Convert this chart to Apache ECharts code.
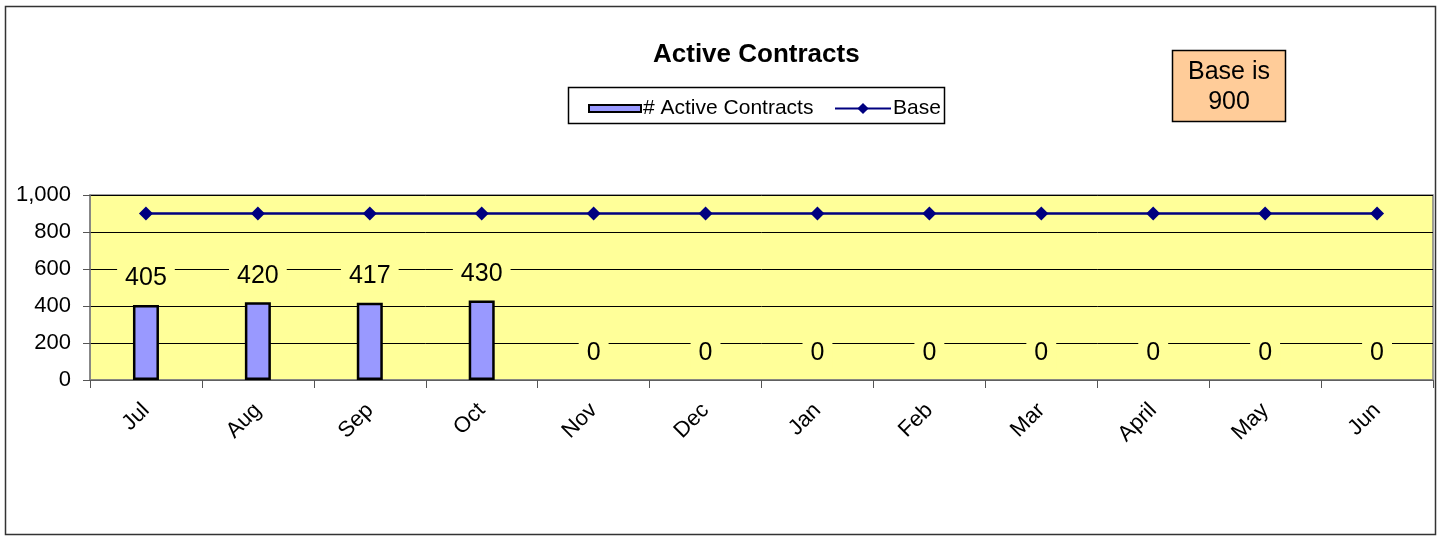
<!DOCTYPE html>
<html>
<head>
<meta charset="utf-8">
<script src="https://cdn.jsdelivr.net/npm/echarts@6/dist/echarts.min.js"></script>
<style>
  html, body { margin: 0; padding: 0; background: #fff; }
  #chart { width: 1440px; height: 537px; }
</style>
</head>
<body>
<div id="chart"></div>
<script>
const months = ['Jul', 'Aug', 'Sep', 'Oct', 'Nov', 'Dec', 'Jan', 'Feb', 'Mar', 'April', 'May', 'Jun']
const activeContracts = [405, 420, 417, 430, 0, 0, 0, 0, 0, 0, 0, 0]
const baseValues = [900, 900, 900, 900, 900, 900, 900, 900, 900, 900, 900, 900]
const yTicks = { min: 0, max: 1000, interval: 200 }
const noteLines = ['Base is', '900']

const font = 'Liberation Sans, Arial, sans-serif'
const chart = echarts.init(document.getElementById('chart'))

// empty months get no bar outline, only the "0" label
const barData = activeContracts.map(v => v === 0
  ? { value: v, itemStyle: { borderWidth: 0 } }
  : v)

chart.setOption({
  animation: false,
  textStyle: { fontFamily: font, color: '#000' },
  title: {
    text: 'Active Contracts',
    left: 648,
    top: 37,
    textStyle: { fontSize: 26, fontWeight: 'bold', color: '#000', fontFamily: font }
  },
  legend: [
    {
      data: [{ name: '# Active Contracts', icon: 'rect' }],
      left: 583,
      top: 93,
      itemWidth: 52,
      itemHeight: 7,
      itemStyle: { borderColor: '#000', borderWidth: 2 },
      textStyle: { fontSize: 21, color: '#000', fontFamily: font, padding: [0, 0, 0, -3] }
    },
    {
      data: ['Base'],
      left: 829,
      top: 93,
      itemWidth: 56,
      itemHeight: 14,
      textStyle: { fontSize: 21, color: '#000', fontFamily: font, padding: [0, 0, 0, -3] }
    }
  ],
  grid: {
    left: 90,
    right: 7,
    top: 195,
    bottom: 157,
    show: true,
    backgroundColor: '#ffff99',
    borderColor: '#808080',
    borderWidth: 1.5
  },
  xAxis: {
    type: 'category',
    data: months,
    boundaryGap: true,
    axisLine: { lineStyle: { color: '#808080', width: 1.5 } },
    axisTick: { show: true, length: 8, lineStyle: { color: '#555' } },
    axisLabel: { rotate: 45, fontSize: 22, color: '#000', margin: 27, fontFamily: font }
  },
  yAxis: {
    type: 'value',
    min: yTicks.min,
    max: yTicks.max,
    interval: yTicks.interval,
    axisLine: { show: true, lineStyle: { color: '#808080', width: 1.5 } },
    axisTick: { show: true, length: 7, lineStyle: { color: '#555' } },
    axisLabel: {
      fontSize: 22,
      color: '#000',
      margin: 19,
      fontFamily: font,
      formatter: v => v.toLocaleString('en-US')
    },
    splitLine: { lineStyle: { color: '#000', width: 1 } }
  },
  series: [
    {
      name: '# Active Contracts',
      type: 'bar',
      data: barData,
      barWidth: 26,
      itemStyle: { color: '#9999ff', borderColor: '#000', borderWidth: 2.5 },
      label: {
        show: true,
        position: 'top',
        distance: 11,
        fontSize: 25,
        color: '#000',
        fontFamily: font,
        backgroundColor: '#ffff99',
        padding: [3, 8]
      },
      z: 2
    },
    {
      name: 'Base',
      type: 'line',
      data: baseValues,
      symbol: 'diamond',
      symbolSize: 14,
      itemStyle: { color: '#000080' },
      lineStyle: { color: '#000080', width: 2.5 },
      z: 3
    }
  ],
  graphic: [
    {
      type: 'rect',
      shape: { x: 5.5, y: 6.5, width: 1430, height: 528 },
      style: { fill: 'none', stroke: '#333', lineWidth: 1.5 },
      silent: true
    },
    {
      type: 'rect',
      shape: { x: 568.5, y: 87.5, width: 376, height: 36 },
      style: { fill: 'none', stroke: '#000', lineWidth: 1.5 },
      silent: true
    },
    {
      type: 'group',
      x: 1172,
      y: 50,
      children: [
        {
          type: 'rect',
          shape: { x: 0.5, y: 0.5, width: 113, height: 71 },
          style: { fill: '#ffcc99', stroke: '#000', lineWidth: 1.5 }
        },
        {
          type: 'text',
          x: 57,
          y: 37,
          style: {
            text: noteLines.join('\n'),
            fontSize: 25,
            lineHeight: 30,
            fontFamily: font,
            fill: '#000',
            align: 'center',
            verticalAlign: 'middle'
          }
        }
      ]
    }
  ]
})
</script>
</body>
</html>
